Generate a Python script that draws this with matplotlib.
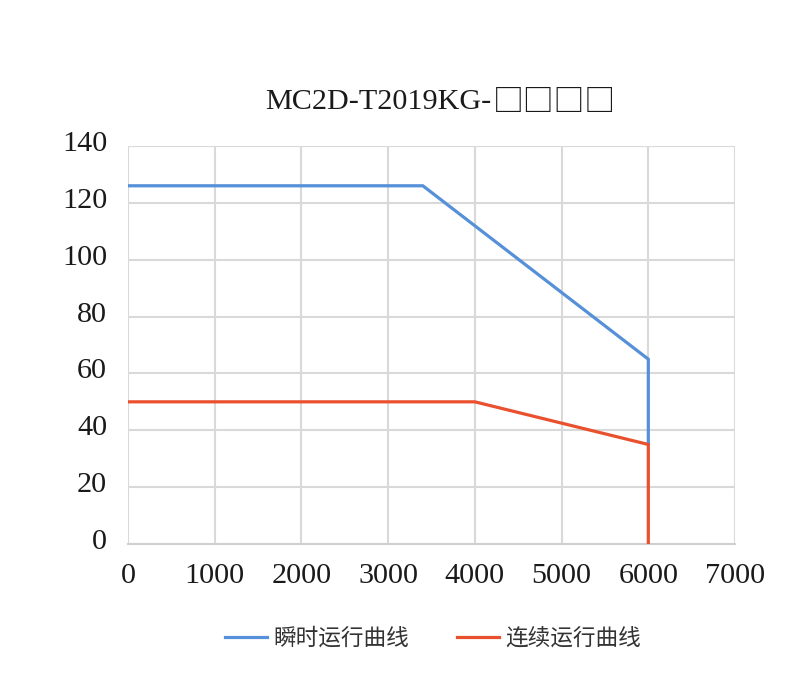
import matplotlib
matplotlib.use("Agg")
import matplotlib.pyplot as plt
import matplotlib.transforms as mtransforms

title_prefix = "MC2D-T2019KG-"
title_suffix = "□□□□"
series_names = ["瞬时运行曲线", "连续运行曲线"]
peak_speed = [0, 3400, 6000, 6000]
peak_torque = [126, 126, 65, 35]
cont_speed = [0, 4000, 6000, 6000]
cont_torque = [50, 50, 35, 0]
x_ticks = [0, 1000, 2000, 3000, 4000, 5000, 6000, 7000]
y_ticks = [0, 20, 40, 60, 80, 100, 120, 140]
colors = ["#5590D8", "#E9512E"]

fig = plt.figure(figsize=(7.98, 6.87), dpi=100)
ax = fig.add_axes([0.1604, 0.2082, 0.7607, 0.5793])

ax.plot(peak_speed, peak_torque, color=colors[0], lw=2.3, label=series_names[0], solid_joinstyle="miter", zorder=3)
ax.plot(cont_speed, cont_torque, color=colors[1], lw=2.3, label=series_names[1], solid_joinstyle="miter", zorder=3)

ax.set_xlim(0, 7000)
ax.set_ylim(0, 140)
ax.set_xticks(x_ticks)
ax.set_yticks(y_ticks)
ax.grid(True, color="#d9d9d9", lw=1.5)
ax.set_axisbelow(True)
for s in ["top", "right", "left"]:
    ax.spines[s].set_visible(False)
ax.spines["bottom"].set_color("#d0d0d0")
ax.spines["bottom"].set_linewidth(1.5)
ax.tick_params(length=0)
ax.tick_params(axis="x", pad=14)
ax.tick_params(axis="y", pad=15)
serif = ["Liberation Serif", "DejaVu Serif"]
FS = 21.7
for lab in ax.get_xticklabels():
    lab.set_fontfamily(serif)
    lab.set_fontsize(FS)
    lab.set_color("#1a1a1a")
off = mtransforms.ScaledTranslation(0, 5 / 100, fig.dpi_scale_trans)
for lab in ax.get_yticklabels():
    lab.set_fontfamily(serif)
    lab.set_fontsize(FS)
    lab.set_color("#1a1a1a")
    lab.set_transform(lab.get_transform() + off)

fig.text(491 / 798, 0.851, title_prefix, ha="right", va="center", fontsize=FS,
         family=serif, color="#1a1a1a")
fig.text(493 / 798, 0.851, title_suffix, ha="left", va="center", fontsize=FS * 1.02,
         family=["Noto Sans CJK SC", "DejaVu Sans"], color="#1a1a1a")

leg = fig.legend(loc="center", bbox_to_anchor=(0.543, 0.071), ncol=2, frameon=False,
                 prop={"family": ["Noto Sans CJK SC", "DejaVu Sans"], "size": 16.3},
                 handlelength=1.85, handletextpad=0.3, columnspacing=2.1)
for t in leg.get_texts():
    t.set_color("#333333")

fig.savefig("out.png", dpi=100)
